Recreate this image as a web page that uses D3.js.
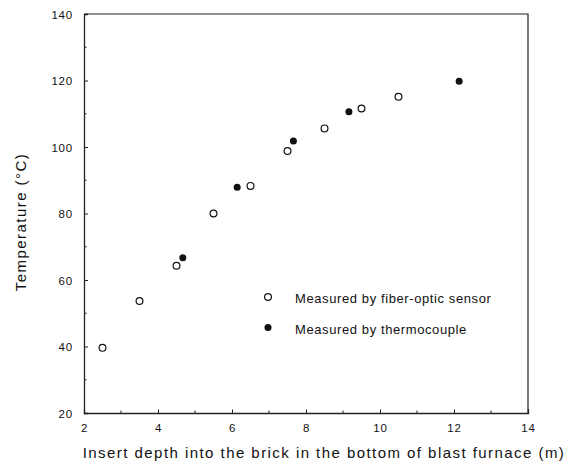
<!DOCTYPE html>
<html>
<head>
<meta charset="utf-8">
<script src="https://cdn.jsdelivr.net/npm/d3@7"></script>
<style>
  body { margin: 0; background: #fff; }
  text { font-family: "Liberation Sans", Arial, Helvetica, sans-serif; fill: #111; }
</style>
</head>
<body>
<div id="Chart"></div>
<script>
var svgWidth = 570;
var svgHeight = 475;

// data
var fiberDepth = [2.5, 3.5, 4.5, 5.5, 6.5, 7.5, 8.5, 9.5, 10.5];
var fiberTemp = [39.6, 53.7, 64.3, 80.0, 88.3, 98.8, 105.6, 111.6, 115.1];
var coupleDepth = [4.67, 6.14, 7.66, 9.16, 12.14];
var coupleTemp = [66.7, 87.9, 101.8, 110.6, 119.8];

var xTicks = [2, 4, 6, 8, 10, 12, 14];
var xMinor = [3, 5, 7, 9, 11, 13];
var yTicks = [20, 40, 60, 80, 100, 120, 140];
var yMinor = [30, 50, 70, 90, 110, 130];

var legendLabels = ["Measured by fiber-optic sensor", "Measured by thermocouple"];

var margin = { top: 14, right: 42, bottom: 62, left: 84 };
var width = svgWidth - margin.left - margin.right;
var height = svgHeight - margin.top - margin.bottom;

var svg = d3.select("#Chart")
  .append("svg")
  .attr("width", svgWidth)
  .attr("height", svgHeight);

var chartGroup = svg.append("g")
  .attr("transform", `translate(${margin.left}, ${margin.top})`);

var xScale = d3.scaleLinear().domain([2, 14]).range([0, width]);
var yScale = d3.scaleLinear().domain([20, 140]).range([height, 0]);

// frame (top + right)
chartGroup.append("path")
  .attr("d", `M0,0H${width}V${height}`)
  .attr("fill", "none")
  .attr("stroke", "#222")
  .attr("stroke-width", 1.2);

// axes with inward ticks
var bottomAxis = d3.axisBottom(xScale).tickValues(xTicks).tickSize(-3.5).tickPadding(11).tickFormat(d3.format("d"));
var leftAxis = d3.axisLeft(yScale).tickValues(yTicks).tickSize(-4).tickPadding(11).tickFormat(d3.format("d"));

var gx = chartGroup.append("g")
  .attr("transform", `translate(0, ${height})`)
  .call(bottomAxis);
gx.append("g").selectAll("line")
  .data(xMinor).enter().append("line")
  .attr("x1", d => xScale(d)).attr("x2", d => xScale(d))
  .attr("y1", 0).attr("y2", -2.5)
  .attr("stroke", "#222");

var gy = chartGroup.append("g").call(leftAxis);
gy.append("g").selectAll("line")
  .data(yMinor).enter().append("line")
  .attr("y1", d => yScale(d)).attr("y2", d => yScale(d))
  .attr("x1", 0).attr("x2", 2.5)
  .attr("stroke", "#222");

[gx, gy].forEach(function (g) {
  g.select(".domain").attr("stroke", "#222").attr("stroke-width", 1.3);
  g.selectAll(".tick line").attr("stroke", "#222");
  g.selectAll(".tick text")
    .style("font-size", "11.5px")
    .style("letter-spacing", "0.8px")
    .attr("fill", "#111");
});
gy.selectAll(".tick text").attr("dy", "0.36em");

// points
chartGroup.selectAll(".fiber")
  .data(fiberDepth)
  .enter()
  .append("circle")
  .attr("class", "fiber")
  .attr("cx", (d, i) => xScale(d))
  .attr("cy", (d, i) => yScale(fiberTemp[i]))
  .attr("r", 3.4)
  .attr("fill", "#fff")
  .attr("stroke", "#111")
  .attr("stroke-width", 1.2);

chartGroup.selectAll(".couple")
  .data(coupleDepth)
  .enter()
  .append("circle")
  .attr("class", "couple")
  .attr("cx", (d, i) => xScale(d))
  .attr("cy", (d, i) => yScale(coupleTemp[i]))
  .attr("r", 3.5)
  .attr("fill", "#111");

// legend
var legend = svg.append("g").attr("transform", "translate(268, 297)");
legendLabels.forEach(function (lab, i) {
  var row = legend.append("g").attr("transform", `translate(0, ${i * 30.5})`);
  row.append("circle")
    .attr("r", i === 0 ? 3.4 : 3.5)
    .attr("fill", i === 0 ? "#fff" : "#111")
    .attr("stroke", i === 0 ? "#111" : "none")
    .attr("stroke-width", 1.2);
  row.append("text")
    .attr("x", 27)
    .attr("y", 6)
    .style("font-size", "13px")
    .style("letter-spacing", "0.6px")
    .text(lab);
});

// axis titles
svg.append("text")
  .attr("x", 324)
  .attr("y", 458)
  .attr("text-anchor", "middle")
  .style("font-size", "15px")
  .style("letter-spacing", "1.45px")
  .text("Insert depth into the brick in the bottom of blast furnace (m)");

svg.append("text")
  .attr("transform", "translate(26, 222) rotate(-90)")
  .attr("text-anchor", "middle")
  .style("font-size", "15px")
  .style("letter-spacing", "1.45px")
  .text("Temperature (°C)");
</script>
</body>
</html>
